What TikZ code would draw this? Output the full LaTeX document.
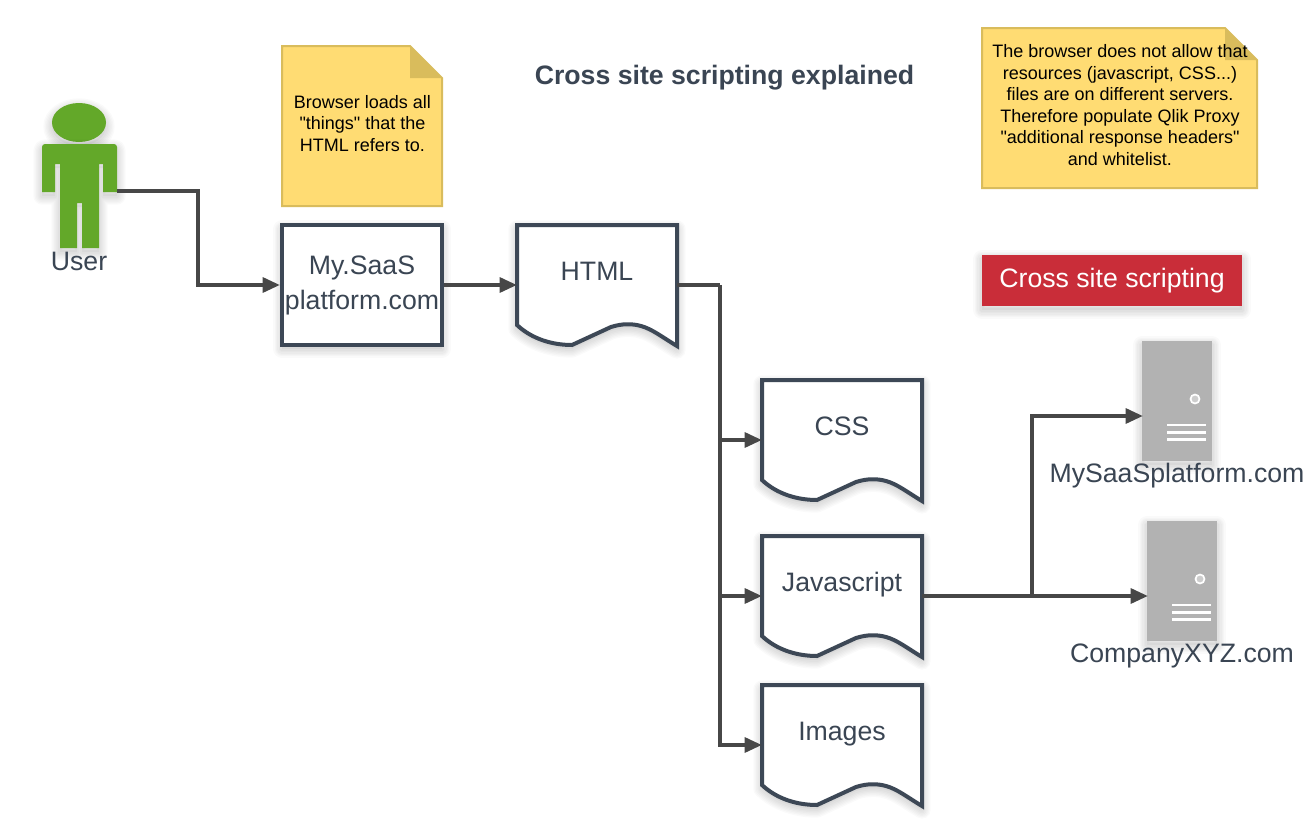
\documentclass[tikz,border=0pt]{standalone}
\usepackage{fontspec}
\setmainfont{Liberation Sans}
\newfontfamily\notefont{Liberation Sans}
\usetikzlibrary{arrows.meta,calc}
\definecolor{inkc}{HTML}{3A4553}
\definecolor{edgec}{HTML}{3D4856}
\definecolor{linec}{HTML}{474747}
\definecolor{notef}{HTML}{FFDC73}
\definecolor{noted}{HTML}{D9BC5C}
\definecolor{redc}{HTML}{C92D39}
\definecolor{greenc}{HTML}{63A829}
\definecolor{srvc}{HTML}{B2B2B2}
\tikzset{
  shadowlayer/.style={preaction={draw=black,fill=none,draw opacity=0.02,line width=#1,line join=round,transform canvas={yshift=-3pt}}},
  softshadow/.style={
    preaction={draw=none,fill=black,fill opacity=0.03,transform canvas={yshift=-3pt}},
    shadowlayer=13pt,shadowlayer=11pt,shadowlayer=9pt,shadowlayer=7pt,shadowlayer=5pt,shadowlayer=3pt},
  big/.style={font=\fontsize{20}{27}\selectfont,text=inkc,align=center},
  boxed/.style={draw=none,inner sep=0pt,outer sep=0pt},
  conn/.style={draw=linec,line width=3pt,-{Triangle[length=13pt,width=11pt]}},
  connplain/.style={draw=linec,line width=3pt},
  docline/.style={draw=edgec,line width=3pt,fill=white,miter limit=10,softshadow},
  noteline/.style={draw=noted,line width=1.5pt,fill=notef},
  notetext/.style={font=\notefont\fontsize{13.5}{16.2}\selectfont,text=black,align=center},
  doctext/.style={big,inner sep=0pt,text height=14.3pt,text depth=4.2pt,yshift=8.4pt},
}
% x y = top left corner, in pixels of the reference
\newcommand{\docshape}[4]{%
  \begin{scope}[shift={(#2,#3)}]
    \draw[docline] (0,0) -- (160,0) -- (160,121) .. controls (145,112) and (135,104) .. (124,101)
      .. controls (115,98.5) and (105,98.5) .. (94,102)
      -- (55,120) .. controls (35,120) and (15,114) .. (0,100) -- cycle;
  \end{scope}
  \node[boxed,minimum width=160*0.75pt,minimum height=120*0.75pt,anchor=north west,
        label={[doctext]center:#4}] (#1) at (#2,#3) {};
}
\newcommand{\notefold}[7]{%
  \draw[noteline] (#2,#3) -- (#4-32,#3) -- (#4,#3+32) -- (#4,#5) -- (#2,#5) -- cycle;
  \fill[noted] (#4-32,#3) -- (#4,#3+32) -- (#4-32,#3+32) -- cycle;
  \node[notetext,inner sep=0pt,outer sep=0pt] (#1) at (#6,#7)
}
\newcommand{\serverdetail}[1]{%
  \begin{scope}[shift={(#1.north west)}]
    \filldraw[fill=srvc!65!white,draw=white,line width=1.3pt] (53,58) circle[radius=4.5*0.75pt];
    \fill[white] (25,83) rectangle (64,85);
    \fill[white] (25,90) rectangle (64,93);
    \fill[white] (25,97) rectangle (64,100);
  \end{scope}
}
\begin{document}
\begin{tikzpicture}[x=0.75pt,y=-0.75pt]
\useasboundingbox (0,0) rectangle (1315,835);
\fill[white] (0,0) rectangle (1315,835);

% user figure
\fill[greenc,softshadow] (79,122.5) ellipse[x radius=27*0.75pt,y radius=19.5*0.75pt];
\fill[greenc,softshadow]
  (42,192) -- (42,147) arc[start angle=180,end angle=90,radius=3*0.75pt] -- (114,144)
  arc[start angle=90,end angle=0,radius=3*0.75pt] -- (117,192) -- (103,192) -- (103,164) -- (99,164)
  -- (99,248) -- (82,248) -- (82,203) -- (77,203) -- (77,248) -- (60,248) -- (60,164) -- (55,164) -- (55,192) -- cycle;
\node[boxed,minimum width=75*0.75pt,minimum height=146*0.75pt] (user) at (79.5,176) {};
\node[big,inner sep=0pt] (userlabel) at (79,261) {User};
\coordinate (userport) at (117,191);

% title
\node[font=\bfseries\fontsize{20}{24}\selectfont,text=inkc,inner sep=0pt] (title) at (724.5,78) {Cross site scripting explained};

% notes
\notefold{noteA}{282}{46}{442}{206}{362.5}{123.5}{Browser loads all\\"things" that the\\HTML refers to.};
\notefold{noteB}{982}{28}{1257}{188}{1120}{105}{The browser does not allow that\\resources (javascript, CSS...)\\files are on different servers.\\Therefore populate Qlik Proxy\\"additional response headers"\\and whitelist.};

% red tag
\node[fill=redc,minimum width=260*0.75pt,minimum height=51*0.75pt,inner sep=0pt,outer sep=0pt,
      text=white,font=\fontsize{20}{24}\selectfont,softshadow] (tag) at (1112,280.5) {Cross site scripting};

% process box
\node[draw=edgec,line width=3pt,fill=white,minimum width=160*0.75pt,minimum height=120*0.75pt,inner sep=0pt,outer sep=1.5pt,
      big,softshadow] (saas) at (362,285) {\raisebox{3pt}{\begin{tabular}{@{}c@{}}My.SaaS\\[-1pt]platform.com\end{tabular}}};

% documents
\docshape{html}{517}{225}{HTML}
\docshape{css}{762}{380}{CSS}
\docshape{js}{762}{536}{Javascript}
\docshape{images}{762}{685}{Images}

% servers
\node[boxed,fill=srvc,minimum width=70*0.75pt,minimum height=120*0.75pt,softshadow] (srvA) at (1177,401) {};
\serverdetail{srvA}
\node[boxed,fill=srvc,minimum width=70*0.75pt,minimum height=120*0.75pt,softshadow] (srvB) at (1182,581) {};
\serverdetail{srvB}
\node[big,inner sep=0pt] (srvAlabel) at (1177,476) {MySaaSplatform.com};
\node[big,inner sep=0pt] (srvBlabel) at (1182,656) {CompanyXYZ.com};
\coordinate (srvAport) at (1143,416);
\coordinate (srvBport) at (1148,596);

% connectors
\coordinate (bendA) at (198,191);
\draw[conn] (userport) -- (bendA) |- (saas.west);
\draw[conn] (saas.east) -- (html.west);
\coordinate (trunk) at (720,285);
\draw[connplain] (html.east) -- (trunk);
\draw[conn] (trunk) |- (css.west);
\draw[conn] (trunk) |- (js.west);
\draw[conn] (trunk) |- (images.west);
\coordinate (fork) at (1032,596);
\draw[conn] (js.east) -- (srvBport);
\draw[conn] (fork) |- (srvAport);
\end{tikzpicture}
\end{document}
